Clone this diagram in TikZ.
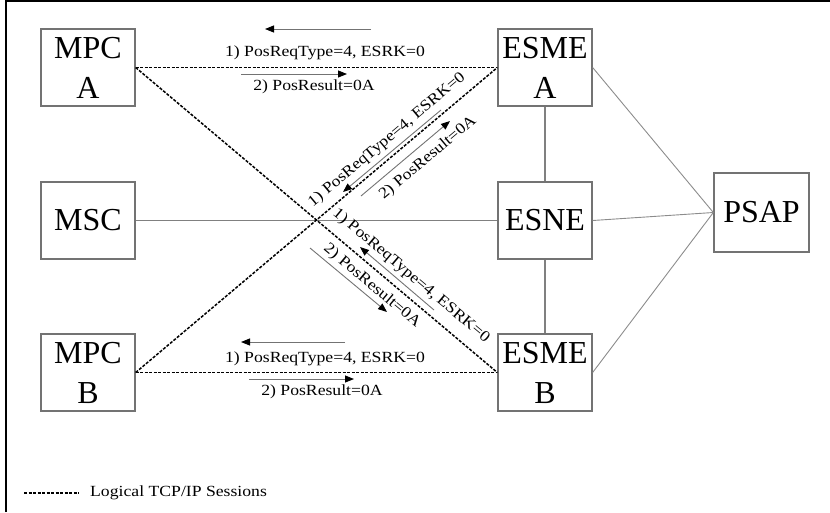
\documentclass[tikz,border=0pt]{standalone}
\usepackage{fontspec}
\setmainfont{Liberation Serif}
\newfontfamily\lblfont[FakeStretch=1.14]{Liberation Serif}
\usetikzlibrary{arrows.meta}
\tikzset{
  box/.style={draw=black!55, line width=1.3pt, minimum width=94pt, minimum height=77pt,
    inner sep=0pt, align=center, font=\fontsize{32}{40}\selectfont},
  session/.style={line width=1.5pt, dash pattern=on 3pt off 1.5pt},
  plain/.style={draw=black!50, line width=1.1pt},
  thin/.style={draw=black!45, line width=0.9pt},
  msgarrow/.style={draw=black!55, line width=0.9pt, -{Triangle[length=9pt,width=7pt,color=black]}},
  lbl/.style={font=\lblfont\fontsize{15.5}{18}\selectfont, text=black, inner sep=0pt},
}
\begin{document}
\begin{tikzpicture}[x=1pt,y=-1pt]
\useasboundingbox (0,0) rectangle (830,512);
\draw[line width=2pt] (6,512) -- (6,1) -- (830,1);

\node[box] (mpca) at (88,67.5) {MPC\\A};
\node[box] (esmea) at (545,67.5) {ESME\\A};
\node[box] (msc) at (88,220.5) {MSC};
\node[box] (esne) at (545,220.5) {ESNE};
\node[box] (mpcb) at (88,372.5) {MPC\\B};
\node[box] (esmeb) at (545,372.5) {ESME\\B};
\node[box, minimum width=95pt, minimum height=79pt] (psap) at (761.5,212.5) {PSAP};

% plain connectors
\draw[plain] (msc.east) -- (esne.west);
\draw[plain] (esmea.south) -- (esne.north);
\draw[plain] (esne.south) -- (esmeb.north);
\draw[thin] (esmea.east) -- (psap.west);
\draw[thin] (esne.east) -- (psap.west);
\draw[thin] (esmeb.east) -- (psap.west);

% sessions
\draw[session] (mpca.east) -- (esmea.west);
\draw[session] (mpcb.east) -- (esmeb.west);
\draw[session] (mpca.east) -- (esmeb.west);
\draw[session] (mpcb.east) -- (esmea.west);

% top messages
\coordinate (ta1) at (371,29); \coordinate (ta2) at (265,29);
\draw[msgarrow] (ta1) -- (ta2);
\node[lbl] (tl1) at (325,53) {1) PosReqType=4, ESRK=0};
\coordinate (tb1) at (241,74); \coordinate (tb2) at (347,74);
\draw[msgarrow] (tb1) -- (tb2);
\node[lbl] (tl2) at (314,87) {2) PosResult=0A};

% bottom messages
\coordinate (ba1) at (345,342); \coordinate (ba2) at (241,342);
\draw[msgarrow] (ba1) -- (ba2);
\node[lbl] (bl1) at (325,359) {1) PosReqType=4, ESRK=0};
\coordinate (bb1) at (249,379); \coordinate (bb2) at (354,379);
\draw[msgarrow] (bb1) -- (bb2);
\node[lbl] (bl2) at (322,392) {2) PosResult=0A};

% up-right diagonal messages
\node[lbl, rotate=40] (ul1) at (387,140) {1) PosReqType=4, ESRK=0};
\coordinate (ua1) at (441,110); \coordinate (ua2) at (343,192);
\draw[msgarrow] (ua1) -- (ua2);
\coordinate (ub1) at (361,196); \coordinate (ub2) at (450,121);
\draw[msgarrow] (ub1) -- (ub2);
\node[lbl, rotate=40] (ul2) at (428,158) {2) PosResult=0A};

% down-right diagonal messages
\node[lbl, rotate=-40] (dl1) at (411,276) {1) PosReqType=4, ESRK=0};
\coordinate (da1) at (434,310); \coordinate (da2) at (360,247);
\draw[msgarrow] (da1) -- (da2);
\node[lbl, rotate=-40] (dl2) at (372,286) {2) PosResult=0A};
\coordinate (db1) at (310,248); \coordinate (db2) at (387,312);
\draw[msgarrow] (db1) -- (db2);

% legend
\coordinate (lg1) at (24,493); \coordinate (lg2) at (79,493);
\draw[line width=1.2pt, dash pattern=on 3pt off 1.5pt] (lg1) -- (lg2);
\node[lbl, anchor=west] (lgt) at (90,493) {Logical TCP/IP Sessions};
\end{tikzpicture}
\end{document}
